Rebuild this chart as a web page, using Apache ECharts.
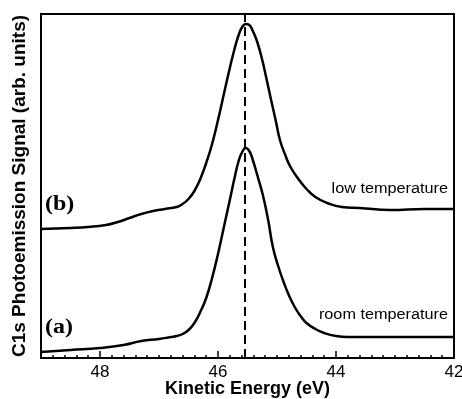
<!DOCTYPE html>
<html>
<head>
<meta charset="utf-8">
<script src="https://cdn.jsdelivr.net/npm/echarts@6/dist/echarts.min.js"></script>
<style>
  html, body { margin: 0; padding: 0; background: #fff; }
  #chart { width: 462px; height: 399px; }
</style>
</head>
<body>
<div id="chart"></div>
<script>
// kinetic energy (eV) and signal (arb. units)
const roomEnergy = [49.0, 48.5, 48.0, 47.6, 47.3, 47.0, 46.8, 46.7, 46.6, 46.5, 46.4, 46.3, 46.2, 46.1, 46.0, 45.9, 45.8, 45.72, 45.65, 45.59, 45.53, 45.47, 45.41, 45.33, 45.24, 45.15, 45.07, 44.98, 44.9, 44.8, 44.7, 44.6, 44.5, 44.35, 44.2, 44.0, 43.8, 43.0, 42.0]
const roomSignal = [6, 8, 10, 13, 17, 19, 21, 22, 24, 28, 35, 46, 60, 80, 104, 131, 158, 180, 197, 206, 210, 207, 198, 182, 163, 138, 111, 92, 78, 63, 51, 42, 35, 29, 25, 22, 21, 21, 21]

const lowEnergy = [49.0, 48.5, 48.2, 47.9, 47.7, 47.5, 47.3, 47.1, 46.9, 46.7, 46.6, 46.5, 46.4, 46.3, 46.2, 46.1, 46.0, 45.9, 45.8, 45.72, 45.65, 45.59, 45.53, 45.47, 45.41, 45.34, 45.25, 45.17, 45.1, 45.02, 44.95, 44.86, 44.78, 44.65, 44.5, 44.35, 44.15, 43.9, 43.6, 43.08, 42.5, 42.0]
const lowSignal = [129, 130, 131, 133, 136, 140, 144, 147, 149, 151, 154, 159, 167, 179, 195, 214, 238, 264, 290, 309, 323, 331, 334, 333, 327, 317, 298, 277, 258, 237, 218, 203, 192, 180, 169, 161, 155, 151, 150, 148, 149, 149]

const peakEnergy = 45.55
const xTicks = [42, 44, 46, 48]

const chart = echarts.init(document.getElementById('chart'))

const sans = 'Liberation Sans, Arial, sans-serif'
const serif = 'Liberation Serif, Times New Roman, serif'

const option = {
  animation: false,
  grid: {
    left: 41,
    right: 8,
    top: 14,
    bottom: 41,
    outerBoundsMode: 'none',
    show: true,
    borderColor: '#000',
    borderWidth: 2,
  },
  xAxis: {
    type: 'value',
    min: 42,
    max: 49,
    interval: 2,
    inverse: true,
    name: 'Kinetic Energy (eV)',
    nameLocation: 'middle',
    nameGap: 22,
    nameMoveOverlap: false,
    nameTextStyle: { color: '#000', fontFamily: sans, fontWeight: 'bold', fontSize: 18 },
    axisLine: { lineStyle: { color: '#000', width: 2 } },
    axisTick: { inside: true, length: 7, lineStyle: { color: '#000', width: 1.5 } },
    minorTick: { show: true, splitNumber: 10, length: 3, lineStyle: { color: '#000', width: 1.5 } },
    splitLine: { show: false },
    axisLabel: {
      color: '#000',
      fontFamily: sans,
      fontSize: 17,
      margin: 6,
      formatter: (v) => (xTicks.includes(v) ? String(v) : ''),
    },
  },
  yAxis: {
    type: 'value',
    min: 0,
    max: 344,
    name: 'C1s Photoemission Signal (arb. units)',
    nameLocation: 'middle',
    nameGap: 12,
    nameMoveOverlap: false,
    nameTextStyle: { color: '#000', fontFamily: sans, fontWeight: 'bold', fontSize: 19 },
    axisLine: { show: true, lineStyle: { color: '#000', width: 2 } },
    axisTick: { show: false },
    axisLabel: { show: false },
    splitLine: { show: false },
  },
  series: [
    {
      type: 'line',
      data: roomEnergy.map((e, i) => [e, roomSignal[i]]),
      showSymbol: false,
      smooth: 0.5,
      lineStyle: { color: '#000', width: 2.5 },
      markLine: {
        silent: true,
        symbol: 'none',
        label: { show: false },
        lineStyle: { color: '#000', width: 2, type: [9, 5] },
        data: [{ xAxis: peakEnergy }],
      },
    },
    {
      type: 'line',
      data: lowEnergy.map((e, i) => [e, lowSignal[i]]),
      showSymbol: false,
      smooth: 0.5,
      lineStyle: { color: '#000', width: 2.5 },
    },
  ],
  graphic: [
    { type: 'text', x: 45, y: 195, scaleX: 1.2, style: { text: '(b)', font: 'bold 20px ' + serif, fill: '#000' } },
    { type: 'text', x: 45, y: 318, scaleX: 1.2, style: { text: '(a)', font: 'bold 20px ' + serif, fill: '#000' } },
    { type: 'text', x: 448, y: 182, scaleX: 1.16, style: { text: 'low temperature', font: '14px ' + sans, fill: '#000', align: 'right' } },
    { type: 'text', x: 448, y: 308, scaleX: 1.16, style: { text: 'room temperature', font: '14px ' + sans, fill: '#000', align: 'right' } },
  ],
}

chart.setOption(option)
</script>
</body>
</html>
